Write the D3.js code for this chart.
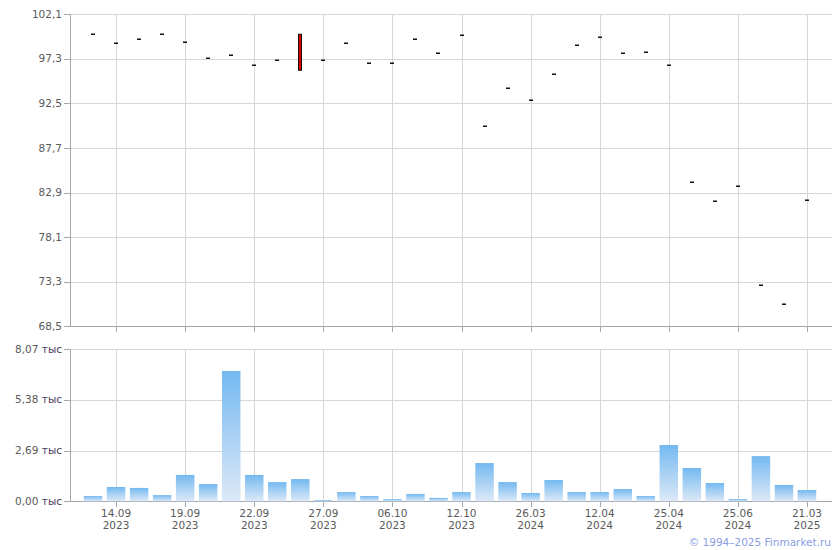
<!DOCTYPE html>
<html><head><meta charset="utf-8">
<script src="https://cdn.jsdelivr.net/npm/d3@7"></script>
<style>body{margin:0;background:#fff}svg{display:block}text{font-family:"DejaVu Sans",Verdana,sans-serif}</style>
</head><body><svg id="c" width="840" height="550"></svg>
<script>
// category index 0..31 (dates only known for labelled ticks)
const categories = d3.range(32);
const tickLabels = [
  {i:1, d:"14.09", y:"2023"},{i:4, d:"19.09", y:"2023"},{i:7, d:"22.09", y:"2023"},
  {i:10,d:"27.09", y:"2023"},{i:13,d:"06.10", y:"2023"},{i:16,d:"12.10", y:"2023"},
  {i:19,d:"26.03", y:"2024"},{i:22,d:"12.04", y:"2024"},{i:25,d:"25.04", y:"2024"},
  {i:28,d:"25.06", y:"2024"},{i:31,d:"21.03", y:"2025"}
];
const openPrices  = [99.95,98.98,99.41,99.95,99.08,97.36,97.68,96.61,97.15,99.95,97.15,98.98,96.82,96.82,99.41,97.90,
                     99.84,90.04,94.13,92.84,95.64,98.76,99.62,97.90,98.01,96.61,84.01,81.96,83.58,72.92,70.87,82.07];
const closePrices = [99.95,98.98,99.41,99.95,99.08,97.36,97.68,96.61,97.15,96.07,97.15,98.98,96.82,96.82,99.41,97.90,
                     99.84,90.04,94.13,92.84,95.64,98.76,99.62,97.90,98.01,96.61,84.01,81.96,83.58,72.92,70.87,82.07];
const volumes = [0.28,0.76,0.71,0.33,1.40,0.92,6.92,1.40,1.02,1.18,0.07,0.49,0.28,0.12,0.39,0.18,
                 0.49,2.03,1.02,0.44,1.13,0.49,0.49,0.65,0.28,2.99,1.77,0.97,0.12,2.40,0.87,0.60];
const priceTicks = [68.5,73.3,78.1,82.9,87.7,92.5,97.3,102.1];
const volTicks = [0,2.69,5.38,8.07];

const svg = d3.select("#c");
const L=70, R=832;
const pTop=14.3, pBot=326.3, vTop=349.3, vBot=501.3;
const gridC="#d3d8dd", axisC="#a3a7ae", txtC="#5a5a5a";

const x = d3.scalePoint().domain(categories).range([L,830]).padding(1);
const yP = d3.scaleLinear().domain([68.5,102.1]).range([pBot,pTop]);
const yV = d3.scaleLinear().domain([0,8.07]).range([vBot,vTop]);

const defs = svg.append("defs");
const grad = defs.append("linearGradient").attr("id","vg").attr("x1",0).attr("y1",0).attr("x2",0).attr("y2",1);
grad.append("stop").attr("offset","0%").attr("stop-color","#74b9f0");
grad.append("stop").attr("offset","100%").attr("stop-color","#dde9f7");

function grid(yScale, ticks, top, bot){
  const g = svg.append("g");
  g.selectAll(".h").data(ticks).join("line")
    .attr("x1",L).attr("x2",R).attr("y1",d=>Math.round(yScale(d))+0.5).attr("y2",d=>Math.round(yScale(d))+0.5)
    .attr("stroke",gridC);
  g.selectAll(".v").data(tickLabels).join("line")
    .attr("x1",d=>Math.round(x(d.i))+0.5).attr("x2",d=>Math.round(x(d.i))+0.5)
    .attr("y1",top).attr("y2",bot).attr("stroke",gridC);
}
grid(yP, priceTicks, pTop, pBot);
grid(yV, volTicks, vTop, vBot);

// axes
function axes(yScale, ticks, top, bot, fmt){
  const g = svg.append("g");
  g.append("line").attr("x1",L+0.5).attr("x2",L+0.5).attr("y1",top).attr("y2",Math.round(bot)+0.5).attr("stroke",axisC);
  g.append("line").attr("x1",L).attr("x2",R).attr("y1",Math.round(bot)+0.5).attr("y2",Math.round(bot)+0.5).attr("stroke",axisC);
  g.selectAll(".yt").data(ticks).join("line")
    .attr("x1",L-6).attr("x2",L).attr("y1",d=>Math.round(yScale(d))+0.5).attr("y2",d=>Math.round(yScale(d))+0.5).attr("stroke",axisC);
  g.selectAll(".xt").data(tickLabels).join("line")
    .attr("x1",d=>Math.round(x(d.i))+0.5).attr("x2",d=>Math.round(x(d.i))+0.5)
    .attr("y1",Math.round(bot)).attr("y2",Math.round(bot)+6).attr("stroke",axisC);
  const t = g.selectAll(".yl").data(ticks).join("text")
    .attr("x",L-8).attr("y",d=>yScale(d)+3.5).attr("text-anchor","end")
    .attr("font-size",10.5).attr("fill",txtC);
  fmt(t);
}
axes(yP, priceTicks, pTop, pBot, t=>t.text(d=>d.toFixed(1).replace(".",",")));
axes(yV, volTicks, vTop, vBot, t=>{
  t.append("tspan").text(d=>d.toFixed(2).replace(".",",")+" ");
  t.append("tspan").attr("fill","#4a3a5a").text("тыс");
});

// x labels under volume
const xl = svg.append("g").selectAll("text").data(tickLabels).join("text")
  .attr("x",d=>x(d.i)).attr("text-anchor","middle").attr("font-size",10.5).attr("fill",txtC);
xl.append("tspan").attr("x",d=>x(d.i)).attr("y",517).text(d=>d.d);
xl.append("tspan").attr("x",d=>x(d.i)).attr("y",529).text(d=>d.y);

// volume bars
const bw = 18.5;
svg.append("g").selectAll("rect").data(categories).join("rect")
  .attr("x",i=>x(i)-bw/2).attr("width",bw)
  .attr("y",i=>yV(volumes[i])).attr("height",i=>yV(0)-yV(volumes[i]))
  .attr("fill","url(#vg)");

// price candles
const cg = svg.append("g");
categories.forEach(i=>{
  const o=openPrices[i], c=closePrices[i];
  if (Math.abs(o-c)<0.05){
    cg.append("rect").attr("x",Math.round(x(i))-2).attr("y",Math.round(yP(o))-0.5).attr("width",4).attr("height",1.5).attr("fill","#111");
  } else {
    const y1=yP(Math.max(o,c)), y2=yP(Math.min(o,c));
    cg.append("rect").attr("x",Math.round(x(i))-1.5).attr("y",y1).attr("width",3).attr("height",y2-y1)
      .attr("fill",c<o?"#dd0000":"#00aa00").attr("stroke","#111").attr("stroke-width",1);
  }
});

svg.append("text").attr("x",831).attr("y",546).attr("text-anchor","end").attr("font-size",10.5)
  .attr("fill","#8a9ee6").text("© 1994–2025 Finmarket.ru");
</script></body></html>
